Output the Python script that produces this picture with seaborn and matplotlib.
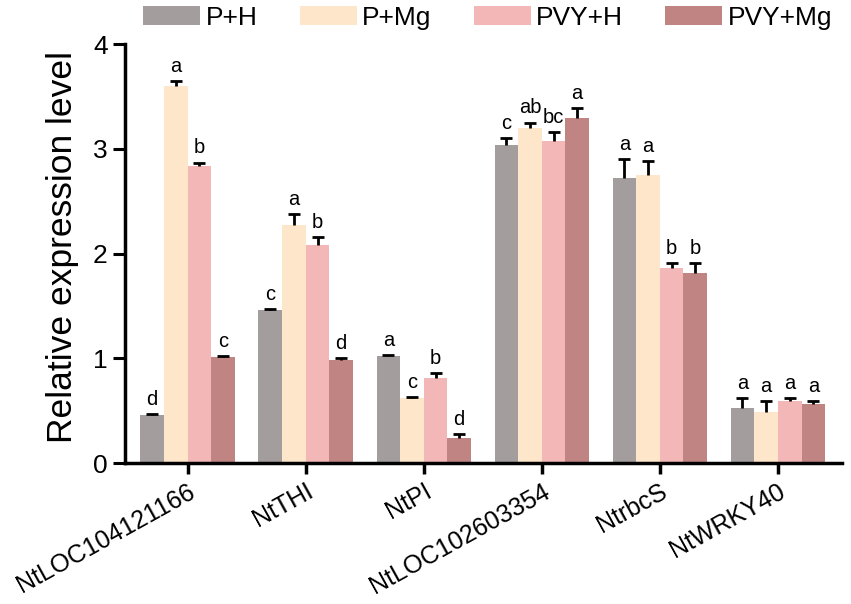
import pandas as pd
import seaborn as sns
import matplotlib.pyplot as plt
import numpy as np

# genes and treatments
genes = ['NtLOC104121166', 'NtTHI', 'NtPI', 'NtLOC102603354', 'NtrbcS', 'NtWRKY40']
treatments = ['P+H', 'P+Mg', 'PVY+H', 'PVY+Mg']

# mean relative expression per treatment (one value per gene)
p_h = [0.46, 1.46, 1.02, 3.04, 2.72, 0.53]
p_mg = [3.60, 2.27, 0.62, 3.20, 2.75, 0.49]
pvy_h = [2.84, 2.08, 0.81, 3.08, 1.86, 0.59]
pvy_mg = [1.01, 0.99, 0.24, 3.29, 1.82, 0.57]

# standard errors (upper side only)
err_p_h = [0.01, 0.01, 0.01, 0.06, 0.18, 0.09]
err_p_mg = [0.05, 0.11, 0.01, 0.05, 0.13, 0.10]
err_pvy_h = [0.03, 0.08, 0.05, 0.08, 0.05, 0.03]
err_pvy_mg = [0.01, 0.01, 0.04, 0.10, 0.09, 0.02]

# significance letters
lab_p_h = ['d', 'c', 'a', 'c', 'a', 'a']
lab_p_mg = ['a', 'a', 'c', 'ab', 'a', 'a']
lab_pvy_h = ['b', 'b', 'b', 'bc', 'b', 'a']
lab_pvy_mg = ['c', 'd', 'd', 'a', 'b', 'a']

colors = ['#a39e9d', '#fde6c9', '#f3b7b7', '#c08583']

means = [p_h, p_mg, pvy_h, pvy_mg]
errs = [err_p_h, err_p_mg, err_pvy_h, err_pvy_mg]
labels = [lab_p_h, lab_p_mg, lab_pvy_h, lab_pvy_mg]

df = pd.DataFrame({
    'gene': genes * len(treatments),
    'treatment': np.repeat(treatments, len(genes)),
    'value': np.concatenate(means),
})

sns.set_style('ticks')
plt.rcParams['font.family'] = ['Liberation Sans', 'DejaVu Sans']
plt.rcParams['text.color'] = 'black'
plt.rcParams['xtick.color'] = 'black'
plt.rcParams['ytick.color'] = 'black'
plt.rcParams['axes.labelcolor'] = 'black'
plt.rcParams['axes.edgecolor'] = 'black'

fig = plt.figure(figsize=(8.51, 6.04), dpi=100)
ax = fig.add_axes([0.147, 0.233, 0.842, 0.694])

sns.barplot(data=df, x='gene', y='value', hue='treatment', order=genes,
            hue_order=treatments, palette=colors, width=0.8, errorbar=None,
            saturation=1, linewidth=0, ax=ax)

# error bars (upper half only) and letters, from the bars seaborn drew
bar_groups = list(ax.containers)
for i, cont in enumerate(bar_groups):
    for j, bar in enumerate(cont.patches):
        x = bar.get_x() + bar.get_width() / 2
        h = bar.get_height()
        e = errs[i][j]
        eb = ax.errorbar(x, h, yerr=[[0], [e]], fmt='none', ecolor='black',
                         elinewidth=2, capsize=4.5, capthick=2, zorder=3)
        eb[1][0].set_visible(False)
        ax.text(x, h + e + 0.05, labels[i][j], ha='center', va='bottom',
                fontsize=14.5)

ax.set_ylim(0, 4)
ax.set_xlim(-0.53, 5.54)
ax.set_yticks([0, 1, 2, 3, 4])
ax.set_xlabel('')
ax.set_ylabel('Relative expression level', fontsize=25.5, labelpad=10)
ax.yaxis.label.set_y(0.515)
ax.tick_params(axis='y', labelsize=19, width=2.2, length=9, direction='out')
ax.tick_params(axis='x', labelsize=18, width=2.5, length=8, direction='out')
plt.setp(ax.get_xticklabels(), rotation=29, ha='right', rotation_mode='anchor')
for s in ['left', 'bottom']:
    ax.spines[s].set_linewidth(2.5)
sns.despine(ax=ax)

ax.legend(loc='center', bbox_to_anchor=(0.573, 0.971),
          bbox_transform=fig.transFigure, ncol=4, frameon=False,
          fontsize=19, handlelength=2.16, handleheight=0.72, columnspacing=1.6,
          handletextpad=0.2, borderpad=0.0)

fig.savefig('out.png', dpi=100)
